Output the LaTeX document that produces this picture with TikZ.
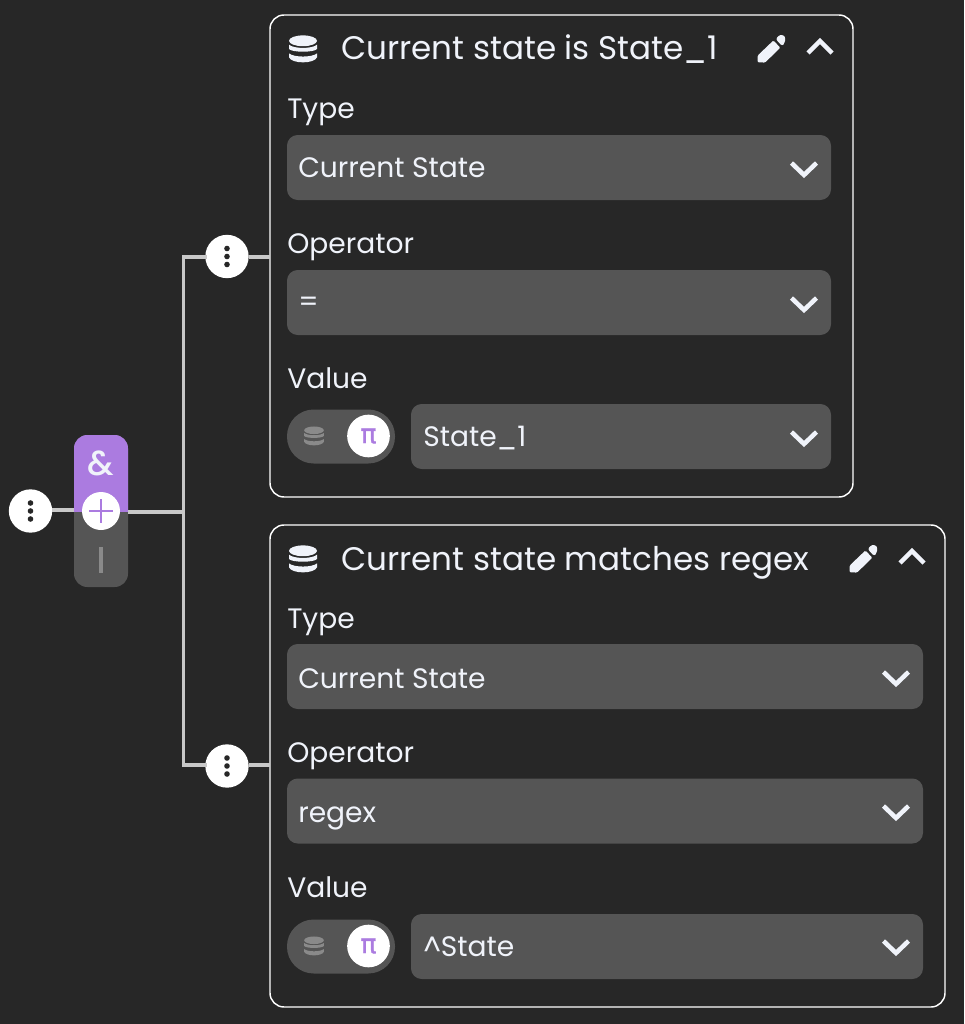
\documentclass[tikz,border=0pt]{standalone}
\usepackage{fontspec}
\setmainfont{Poppins}
\newfontfamily\pifont[FakeBold=1.2]{DejaVu Sans}
\newfontfamily\ampfont{Poppins Medium}
\definecolor{bg}{HTML}{272727}
\definecolor{fieldc}{HTML}{555555}
\definecolor{purp}{HTML}{AB7BE0}
\definecolor{linec}{HTML}{C8C8C8}
\definecolor{txt}{HTML}{F0F3FA}
\definecolor{iconc}{HTML}{8A8A8A}
\tikzset{
  x=0.75pt,y=-0.75pt,
  card/.style={draw=white,line width=1.1pt,rounded corners=10.5pt,fill=bg,inner sep=0pt,outer sep=0pt},
  fieldbox/.style={fill=fieldc,rounded corners=8pt,inner sep=0pt,outer sep=0pt},
  titletext/.style={anchor=base west,inner sep=0pt,text=txt,font=\fontsize{24.45}{26}\selectfont},
  labeltext/.style={anchor=base west,inner sep=0pt,text=txt,font=\fontsize{21.1}{24}\selectfont},
  wire/.style={draw=linec,line width=2.4pt},
  dotcircle/.style={circle,fill=white,minimum size=32.5pt,inner sep=0pt,outer sep=0pt},
  chev/.style={draw=txt,line width=3.4pt,miter limit=10},
  db/.pic={
    \fill[pic actions] (0,-8.2) ellipse[x radius=14,y radius=5.4];
    \fill[pic actions] (-14,-4.3) .. controls (-9,0) and (9,0) .. (14,-4.3) -- (14,0) .. controls (11,3.6) and (-11,3.6) .. (-14,0) -- cycle;
    \fill[pic actions] (-14,4.4) .. controls (-9,8.6) and (9,8.6) .. (14,4.4) -- (14,8.4) .. controls (11,15) and (-11,15) .. (-14,8.4) -- cycle;
  },
  pencil/.pic={
    \fill[txt,rounded corners=0.8pt] (-13,13.2) -- (-12.8,6.5) -- (2.9,-8.5) -- (9.8,-1.3) -- (-5.5,13.6) -- cycle;
    \fill[txt,rounded corners=1.6pt] (5.2,-10) -- (9.5,-14.4) -- (14.6,-13) -- (14.6,-6) -- (11.5,-3) -- cycle;
  },
  chevup/.pic={\draw[chev] (-12,6) -- (0,-6) -- (12,6);},
  chevdown/.pic={\draw[chev] (-12.5,-6) -- (0,6) -- (12.5,-6);},
  dots/.pic={
    \fill[bg] (0,-8) circle[radius=2.8];
    \fill[bg] (0,0) circle[radius=2.8];
    \fill[bg] (0,8) circle[radius=2.8];
  },
}
\begin{document}
\begin{tikzpicture}
\useasboundingbox (0,0) rectangle (964,1024);
\fill[bg] (0,0) rectangle (964,1024);

% cards
\node[card,minimum width=437.25pt,minimum height=361.5pt] (cardA) at (561.5,256) {};
\node[card,minimum width=506.25pt,minimum height=361.5pt] (cardB) at (607.5,766) {};

% group pill
\node[fieldbox,rounded corners=10pt,minimum width=40.5pt,minimum height=114pt] (pill) at (101,511) {};
\begin{scope}
  \clip (74,435) rectangle (128,511);
  \fill[purp,rounded corners=10pt] (74,435) rectangle (128,560);
\end{scope}
\node[text=txt,font=\fontsize{26}{26}\selectfont\ampfont,inner sep=0pt] (amp) at (101,463.5) {\&};
\coordinate (barTop) at (101,547);
\coordinate (barBot) at (101,573);
\draw[draw=iconc,line width=2.5pt] (barTop) -- (barBot);

% connector nodes
\node[dotcircle] (dotsRoot) at (30.5,511) {};
\node[circle,fill=white,minimum size=28.5pt,inner sep=0pt,outer sep=0pt] (plus) at (101,511) {};
\node[dotcircle] (dotsA) at (227,256.5) {};
\node[dotcircle] (dotsB) at (227,766) {};
\coordinate (junction) at (183.7,512);
\coordinate (wireA) at (227,257);
\coordinate (wireB) at (227,765);

\draw[wire] (dotsRoot.east |- 0,510) -- (pill.west |- 0,510);
\draw[wire] (pill.east |- junction) -- (junction);
\draw[wire,line cap=rect] (dotsA.west |- wireA) -- (wireA -| junction) -- (wireB -| junction) -- (dotsB.west |- wireB);
\draw[wire] (dotsA.east |- wireA) -- (wireA -| cardA.west);
\draw[wire] (dotsB.east |- wireB) -- (wireB -| cardB.west);

\pic at (dotsRoot) {dots};
\pic at (dotsA) {dots};
\pic at (dotsB) {dots};
\draw[purp,line width=1.9pt] (101,499) -- (101,523) (89,511) -- (113,511);

% card A
\pic[txt] at (303,49) {db};
\node[titletext] (titleA) at (341,60) {Current state is State\_1};
\pic at (770.5,49) {pencil};
\pic at (820,47) {chevup};
\node[labeltext] (typeA) at (287,118) {Type};
\node[fieldbox,minimum width=408pt,minimum height=48.75pt] (fieldA1) at (559,167.5) {};
\node[labeltext] (valA1) at (298,177) {Current State};
\pic at (804,169) {chevdown};
\node[labeltext] (opA) at (287,253) {Operator};
\node[fieldbox,minimum width=408pt,minimum height=48.75pt] (fieldA2) at (559,302.5) {};
\node[labeltext] (valA2) at (298,311) {=};
\pic at (804,304) {chevdown};
\node[labeltext] (valueA) at (287,388) {Value};
\node[fieldbox,rounded corners=20pt,minimum width=81pt,minimum height=40.5pt] (togA) at (341,436.5) {};
\pic[iconc,scale=0.7] at (314,436) {db};
\node[circle,fill=white,minimum size=32pt,inner sep=0pt] (knobA) at (368.5,436) {};
\node[text=purp,font=\fontsize{20}{24}\selectfont\pifont,inner sep=0pt] (piA) at (knobA) {π};
\node[fieldbox,minimum width=315pt,minimum height=48.75pt] (fieldA3) at (621,436.5) {};
\node[labeltext] (valA3) at (423,446) {State\_1};
\pic at (804,438) {chevdown};

% card B
\pic[txt] at (303,559) {db};
\node[titletext] (titleB) at (341,570) {Current state matches regex};
\pic at (862.5,559) {pencil};
\pic at (912,557) {chevup};
\node[labeltext] (typeB) at (287,628) {Type};
\node[fieldbox,minimum width=477pt,minimum height=48.75pt] (fieldB1) at (605,676.5) {};
\node[labeltext] (valB1) at (298,688) {Current State};
\pic at (896,678) {chevdown};
\node[labeltext] (opB) at (287,762) {Operator};
\node[fieldbox,minimum width=477pt,minimum height=48.75pt] (fieldB2) at (605,811) {};
\node[labeltext] (valB2) at (298,822) {regex};
\pic at (896,812) {chevdown};
\node[labeltext] (valueB) at (287,897) {Value};
\node[fieldbox,rounded corners=20pt,minimum width=81pt,minimum height=40.5pt] (togB) at (341,946.5) {};
\pic[iconc,scale=0.7] at (314,946) {db};
\node[circle,fill=white,minimum size=32pt,inner sep=0pt] (knobB) at (368.5,946) {};
\node[text=purp,font=\fontsize{20}{24}\selectfont\pifont,inner sep=0pt] (piB) at (knobB) {π};
\node[fieldbox,minimum width=384pt,minimum height=48.75pt] (fieldB3) at (667,946.5) {};
\node[labeltext] (valB3) at (423,956) {\^{}State};
\pic at (896,947) {chevdown};
\end{tikzpicture}
\end{document}
